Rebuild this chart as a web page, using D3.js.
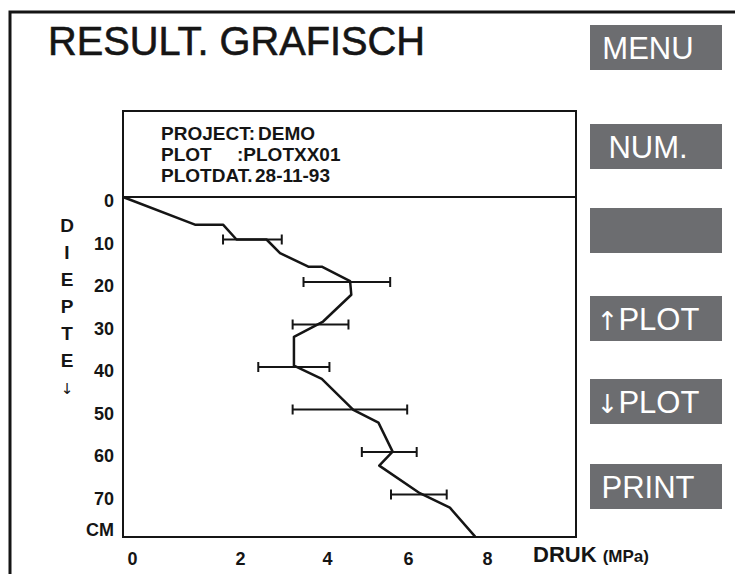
<!DOCTYPE html>
<html>
<head>
<meta charset="utf-8">
<script src="https://cdn.jsdelivr.net/npm/d3@7"></script>
<style>
  body { margin: 0; background: #fff; }
  svg { display: block; font-family: "Liberation Sans", Arial, Helvetica, sans-serif; }
  .arrow { font-family: "DejaVu Sans", sans-serif; }
</style>
</head>
<body>
<svg width="735" height="574"></svg>
<script>
// depth in cm, pressure in MPa
var depthTicks = [0, 10, 20, 30, 40, 50, 60, 70];
var pressureTicks = [0, 2, 4, 6, 8];

var profileDepth    = [0, 6.5, 6.5, 10, 10, 13.2, 16.4, 16.4, 19.8, 23, 29.3, 32.9, 39.7, 42.8, 50.1, 53.1, 59.9, 63.2, 69.7, 73.1, 79.9];
var profilePressure = [0, 1.23, 1.71, 1.94, 2.61, 2.92, 3.57, 3.88, 4.57, 4.6, 3.91, 3.24, 3.24, 3.88, 4.65, 5.27, 5.62, 5.29, 6.30, 7.06, 7.70];

var barDepth = [10, 20, 30, 40, 50, 60, 70];
var barLow   = [1.71, 3.46, 3.21, 2.42, 3.21, 4.86, 5.58];
var barHigh  = [2.96, 5.56, 4.53, 4.06, 5.98, 6.22, 6.98];

var headerLines = [["PROJECT:", "DEMO"], ["PLOT", ":PLOTXX01"], ["PLOTDAT.", "28-11-93"]];
var buttonLabels = ["MENU", "NUM.", "", "\u2191PLOT", "\u2193PLOT", "PRINT"];
var axisLetters = ["D", "I", "E", "P", "T", "E", "\u2193"];

var svg = d3.select("svg");
var ink = "#151515", grey = "#6c6d70";

// screen frame (runs off to the right / bottom)
svg.append("path")
    .attr("d", "M10,580 V12 H740")
    .attr("fill", "none")
    .attr("stroke", ink)
    .attr("stroke-width", 3);

svg.append("text")
    .attr("x", 48).attr("y", 55)
    .attr("font-size", 41)
    .attr("textLength", 377)
    .attr("lengthAdjust", "spacingAndGlyphs")
    .attr("fill", ink)
    .attr("stroke", ink)
    .attr("stroke-width", 0.6)
    .text("RESULT. GRAFISCH");

// side buttons
var buttonTop = [25, 124, 208, 296, 379, 464];
var btn = svg.selectAll("g.btn").data(buttonLabels).enter().append("g")
    .attr("class", "btn")
    .attr("transform", function(d, i) { return "translate(590," + buttonTop[i] + ")"; });
btn.append("rect")
    .attr("width", 132).attr("height", 45)
    .attr("fill", grey);
btn.append("text")
    .attr("x", 58).attr("y", 34)
    .attr("text-anchor", "middle")
    .attr("font-size", 31)
    .attr("fill", "#fff")
    .each(function(d) {
        var t = d3.select(this);
        if (d.charAt(0) == "\u2191" || d.charAt(0) == "\u2193") {
            t.append("tspan").attr("class", "arrow").attr("font-size", 26).text(d.charAt(0));
            t.append("tspan").text(d.slice(1));
        } else {
            t.text(d);
        }
    });

// plot area
var x = d3.scaleLinear().domain([0, 2, 4, 6, 8, 10]).range([123, 240, 327, 408, 487, 576]);
var y = d3.scaleLinear().domain([0, 80]).range([197, 537]);

svg.append("rect")
    .attr("x", 123).attr("y", 111)
    .attr("width", 453).attr("height", 426)
    .attr("fill", "none")
    .attr("stroke", ink)
    .attr("stroke-width", 2);
svg.append("line")
    .attr("x1", 123).attr("x2", 576)
    .attr("y1", y(0)).attr("y2", y(0))
    .attr("stroke", ink)
    .attr("stroke-width", 2);

var header = svg.append("g").attr("font-size", 19).attr("font-weight", "bold").attr("fill", ink);
headerLines.forEach(function(l, i) {
    var by = 140 + i * 21;
    header.append("text").attr("x", 161).attr("y", by).text(l[0]);
    header.append("text").attr("x", i == 1 ? 237 : (i == 0 ? 258 : 255)).attr("y", by).text(l[1]);
});

// axes
var xAxis = d3.axisBottom(x).tickValues(pressureTicks).tickSize(0).tickPadding(15);
var yAxis = d3.axisLeft(y).tickValues(depthTicks).tickSize(0).tickPadding(9);

var gx = svg.append("g").attr("transform", "translate(0," + y(80) + ")").call(xAxis);
var gy = svg.append("g").attr("transform", "translate(" + x(0) + ",0)").call(yAxis);
[gx, gy].forEach(function(g) {
    g.select(".domain").remove();
    g.selectAll("text")
        .attr("font-family", "Liberation Sans, Arial, sans-serif")
        .attr("font-size", 18)
        .attr("font-weight", "bold")
        .attr("fill", ink);
});
gy.selectAll("text").attr("y", 4);
gx.selectAll("text").filter(function(d) { return d === 0; }).attr("dx", 9);

svg.append("text")
    .attr("x", 114).attr("y", y(80) - 1)
    .attr("text-anchor", "end")
    .attr("font-size", 18).attr("font-weight", "bold")
    .attr("fill", ink)
    .text("CM");

svg.append("text")
    .attr("y", 562)
    .attr("fill", ink)
    .attr("font-weight", "bold")
    .call(function(t) {
        t.append("tspan").attr("x", 533).attr("font-size", 22).text("DRUK ");
        t.append("tspan").attr("font-size", 17).text("(MPa)");
    });

svg.selectAll("text.yl").data(axisLetters).enter().append("text")
    .attr("class", function(d) { return d == "\u2193" ? "yl arrow" : "yl"; })
    .attr("x", 67)
    .attr("y", function(d, i) { return 232 + i * 27; })
    .attr("text-anchor", "middle")
    .attr("font-size", function(d) { return d == "\u2193" ? 15 : 19; })
    .attr("font-weight", function(d) { return d == "\u2193" ? "normal" : "bold"; })
    .attr("fill", ink)
    .text(function(d) { return d; });

// penetration profile
var line = d3.line()
    .x(function(d) { return x(profilePressure[d]); })
    .y(function(d) { return y(profileDepth[d]); });

svg.append("path")
    .datum(d3.range(profileDepth.length))
    .attr("d", line)
    .attr("fill", "none")
    .attr("stroke", ink)
    .attr("stroke-width", 2.5)
    .attr("stroke-linejoin", "round");

// spread bars
var bars = svg.selectAll("g.bar").data(barDepth).enter().append("g")
    .attr("class", "bar")
    .attr("stroke", ink)
    .attr("stroke-width", 2);
bars.append("line")
    .attr("x1", function(d, i) { return x(barLow[i]); })
    .attr("x2", function(d, i) { return x(barHigh[i]); })
    .attr("y1", function(d) { return y(d); })
    .attr("y2", function(d) { return y(d); });
bars.append("line")
    .attr("x1", function(d, i) { return x(barLow[i]); })
    .attr("x2", function(d, i) { return x(barLow[i]); })
    .attr("y1", function(d) { return y(d) - 5; })
    .attr("y2", function(d) { return y(d) + 5; });
bars.append("line")
    .attr("x1", function(d, i) { return x(barHigh[i]); })
    .attr("x2", function(d, i) { return x(barHigh[i]); })
    .attr("y1", function(d) { return y(d) - 5; })
    .attr("y2", function(d) { return y(d) + 5; });
</script>
</body>
</html>
